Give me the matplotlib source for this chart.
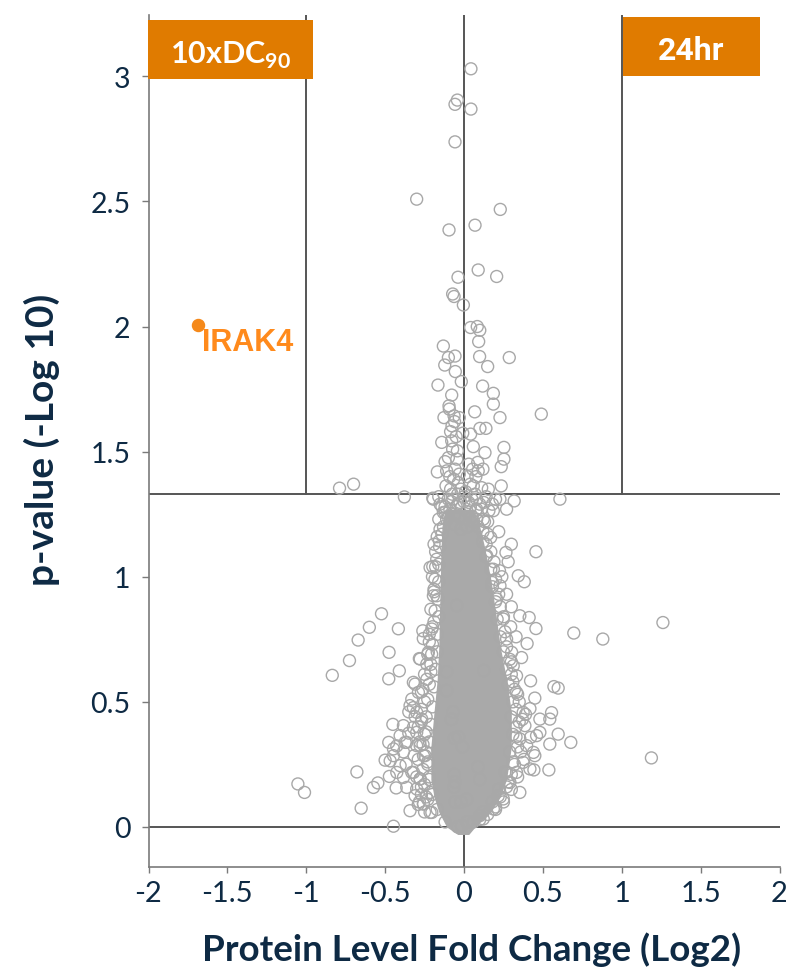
import matplotlib
matplotlib.use("Agg")
import matplotlib.pyplot as plt
from matplotlib.patches import Rectangle

plt.rcParams['font.family'] = ['Lato', 'DejaVu Sans']
plt.rcParams['axes.unicode_minus'] = False
plt.rcParams['mathtext.fontset'] = 'custom'
plt.rcParams['mathtext.rm'] = 'Lato:bold'

navy = '#0e2a44'
orange = '#e07b00'
ring = '#a8a8a8'

# proteins above the p-value cut (log2 fold change, -log10 p)
sig_fc = [0.044, -0.042, -0.057, 0.044, -0.057, -0.30, 0.23, -0.095, 0.07, 0.09,
          0.207, -0.038, -0.072, -0.063, -0.004, 0.042, 0.084, 0.10, 0.093, -0.131,
          -0.099, -0.057, -0.122, 0.099, 0.287, 0.15, -0.055, -0.017, -0.165, 0.118,
          -0.078, 0.186, 0.186, -0.095, -0.093, 0.068, 0.228, 0.49, -0.127, -0.063,
          -0.03, -0.076, 0.101, 0.139, -0.008, 0.042, -0.141, -0.078, 0.059, 0.253,
          -0.072, -0.042, 0.133, 0.253, -0.099, -0.046, 0.087, 0.236, -0.169, -0.11,
          -0.057, 0.09, 0.055, -0.114, -0.036, 0.059, 0.112, 0.154, 0.236, -0.789,
          -0.70, -0.378, -0.198, 0.228, 0.318, 0.608, -0.09, -0.065, -0.03, 0.02,
          0.04, -0.02, -0.085, 0.075, -0.05, -0.085, -0.06, 0.03, -0.12, 0.12,
          -0.075, 0.01]
sig_p = [3.03, 2.905, 2.888, 2.869, 2.738, 2.509, 2.468, 2.386, 2.405, 2.226,
         2.20, 2.197, 2.13, 2.12, 2.086, 1.996, 2.0, 1.985, 1.94, 1.922,
         1.876, 1.882, 1.846, 1.88, 1.876, 1.84, 1.82, 1.78, 1.766, 1.762,
         1.726, 1.733, 1.69, 1.683, 1.67, 1.659, 1.636, 1.65, 1.636, 1.643,
         1.636, 1.603, 1.593, 1.593, 1.574, 1.57, 1.537, 1.543, 1.52, 1.517,
         1.51, 1.503, 1.496, 1.47, 1.476, 1.47, 1.457, 1.44, 1.419, 1.423,
         1.43, 1.423, 1.43, 1.363, 1.376, 1.363, 1.356, 1.35, 1.363, 1.354,
         1.37, 1.319, 1.314, 1.31, 1.303, 1.31, 1.40, 1.39, 1.41, 1.40,
         1.37, 1.35, 1.35, 1.40, 1.56, 1.58, 1.62, 1.45, 1.46, 1.43,
         1.33, 1.34]

# proteins around the dense centre of the cloud
mid_fc = [-0.152, -0.12, -0.025, 0.03, 0.074, 0.125, 0.158, 0.18, 0.27, 0.08,
          -0.07, -0.05, 0.0, 0.05, -0.10, 0.186, -0.13, -0.11, -0.09, -0.14,
          -0.06, -0.03, 0.02, 0.05, 0.09, 0.12, 0.14, 0.11, -0.156, 0.169,
          0.06, 0.12, 0.18, 0.22, 0.26, 0.29, 0.31, 0.30, 0.31, 0.28,
          0.27, 0.25, 0.23, 0.21, 0.20, 0.18, 0.17, 0.14, 0.12,
          -0.12, -0.17, -0.20, -0.22, -0.23, -0.22, -0.21, -0.20, -0.19, -0.18,
          -0.17, -0.17, -0.16, -0.165, -0.16, -0.16, -0.155,
          -0.046, -0.11, 0.125, -0.11, -0.07, -0.08, -0.06, -0.035, -0.01, 0.088,
          -0.063, -0.058, -0.063, 0.10, -0.055, -0.02, -0.04, 0.017, -0.015, 0.02,
          -0.236, -0.226, -0.204, -0.194, -0.184, -0.173, -0.152, -0.131, -0.194,
          -0.215, -0.257, -0.278,
          0.228, 0.207, 0.27, 0.302, 0.312, 0.333, 0.375, 0.386, 0.354, 0.397,
          0.375, 0.333, 0.291, 0.249, 0.186, 0.122, 0.249, 0.186, 0.144, 0.122,
          0.08, -0.08, -0.04, 0.0, 0.04, 0.08, -0.12, 0.15, -0.10, 0.10,
          -0.06, 0.06, -0.02, 0.02,
          -0.14, -0.16, 0.14, 0.20, -0.04, 0.07]
mid_p = [1.29, 1.257, 1.297, 1.297, 1.264, 1.297, 1.264, 1.29, 1.27, 1.23,
         1.31, 1.28, 1.32, 1.31, 1.31, 1.264, 1.20, 1.23, 1.27, 1.17,
         1.25, 1.24, 1.26, 1.24, 1.20, 1.18, 1.13, 1.27, 1.143, 1.157,
         0.02, 0.06, 0.10, 0.15, 0.22, 0.30, 0.37, 0.44, 0.50, 0.57,
         0.63, 0.70, 0.76, 0.83, 0.90, 0.96, 1.03, 1.08, 1.14,
         0.02, 0.07, 0.13, 0.19, 0.26, 0.34, 0.41, 0.48, 0.56, 0.63,
         0.70, 0.77, 0.84, 0.91, 0.98, 1.05, 1.12,
         0.885, 0.62, 0.625, 0.545, 0.46, 0.43, 0.355, 0.36, 0.32, 0.24,
         0.21, 0.18, 0.16, 0.19, 0.10, 0.10, 0.0, 0.11, 0.005, 0.02,
         0.59, 0.698, 0.791, 0.924, 0.99, 1.07, 1.19, 1.257, 1.31,
         0.138, 0.092, 0.192,
         0.964, 0.911, 0.751, 0.698, 0.644, 0.538, 0.458, 0.405, 0.352, 0.325,
         0.258, 0.218, 0.178, 0.112, 0.072, 0.032, 0.831, 1.03, 1.084, 1.23,
         1.27, 1.30, 1.29, 1.30, 1.28, 1.31, 1.28, 1.22, 1.24, 1.29,
         1.21, 1.22, 1.19, 1.20,
         1.28, 1.32, 1.32, 1.31, 1.33, 1.33]

# rings crowding the flanks of the centre
flank_fc = [-0.25, -0.29, -0.23, -0.27, -0.25, -0.30, -0.26, -0.29, -0.24, -0.28,
            -0.25, -0.29, -0.24, -0.27, -0.23, -0.27, -0.22, -0.25, -0.21, -0.23,
            -0.20, -0.22, -0.19, -0.21, -0.19, -0.20, -0.18, -0.19, -0.17, -0.16,
            0.10, 0.15, 0.20, 0.23, 0.27, 0.30, 0.32, 0.34, 0.33, 0.35,
            0.33, 0.34, 0.31, 0.30, 0.29, 0.27, 0.26, 0.25, 0.23, 0.22,
            0.20, 0.19, 0.17, 0.15, 0.13]
flank_p = [0.06, 0.09, 0.11, 0.13, 0.17, 0.20, 0.23, 0.27, 0.30, 0.34,
           0.37, 0.40, 0.44, 0.47, 0.51, 0.54, 0.57, 0.61, 0.65, 0.69,
           0.73, 0.77, 0.82, 0.87, 0.94, 1.00, 1.04, 1.13, 1.16, 1.23,
           0.03, 0.05, 0.08, 0.12, 0.16, 0.21, 0.25, 0.32, 0.36, 0.42,
           0.47, 0.53, 0.58, 0.61, 0.67, 0.72, 0.78, 0.84, 0.88, 0.93,
           0.99, 1.06, 1.10, 1.17, 1.22]

# down-regulated tail below the cut
low_fc = [-0.215, -0.198, -0.523, -0.60, -0.416, -0.671, -0.261, -0.258, -0.475, -0.726,
          -0.41, -0.835, -0.477, -0.283, -0.236, -0.31, -0.331, -0.321, -0.31, -0.451,
          -0.35, -0.30, -0.477, -0.426, -0.384, -0.50, -0.468, -0.367, -0.316, -0.679,
          -0.473, -0.384, -0.546, -0.574, -0.43, -0.30, -1.053, -1.011, -0.283, -0.652,
          -0.342, -0.447, -0.204, -0.173, -0.183, -0.205, -0.278, -0.35, -0.373, -0.278,
          -0.447, -0.426, -0.32, -0.247, -0.215, -0.26, -0.25, -0.27, -0.24, -0.26,
          -0.23, -0.22, -0.27, -0.24, -0.20, -0.19, -0.18, -0.22, -0.21,
          -0.321, -0.289, -0.342, -0.30, -0.384, -0.321, -0.268, -0.363, -0.30, -0.257,
          -0.405, -0.331, -0.278, -0.363, -0.31, -0.257, -0.405, -0.447]
low_p = [1.037, 1.041, 0.852, 0.798, 0.792, 0.747, 0.784, 0.753, 0.698, 0.665,
         0.624, 0.606, 0.592, 0.673, 0.651, 0.571, 0.511, 0.477, 0.441, 0.41,
         0.375, 0.378, 0.338, 0.324, 0.30, 0.267, 0.264, 0.251, 0.285, 0.22,
         0.202, 0.198, 0.176, 0.158, 0.156, 0.152, 0.172, 0.138, 0.10, 0.075,
         0.065, 0.003, 0.058, 0.924, 0.864, 0.691, 0.671, 0.46, 0.338, 0.325,
         0.285, 0.218, 0.218, 0.285, 0.058, 0.55, 0.50, 0.42, 0.38, 0.33,
         0.25, 0.20, 0.16, 0.12, 0.80, 0.95, 1.10, 0.74, 0.62,
         0.578, 0.538, 0.485, 0.458, 0.405, 0.398, 0.431, 0.338, 0.325, 0.285,
         0.245, 0.218, 0.192, 0.158, 0.125, 0.092, 0.365, 0.312]

# up-regulated tail below the cut
up_fc = [0.456, 0.266, 0.28, 0.344, 0.382, 0.225, 0.18, 0.354, 0.413, 0.456,
         0.296, 0.696, 0.88, 1.261, 0.40, 0.365, 0.333, 0.422, 0.57, 0.597,
         0.449, 0.418, 0.555, 0.544, 0.481, 0.597, 0.677, 0.544, 0.422, 0.449,
         0.443, 0.538, 1.188, 0.354, 0.28, 0.217, 0.46, 0.44, 0.418, 0.27,
         0.10, 0.30, 0.32, 0.35, 0.37, 0.33, 0.36, 0.31, 0.34, 0.30,
         0.25, 0.20, 0.38, 0.39, 0.33, 0.30, 0.27, 0.24, 0.30, 0.22, 0.481]
up_p = [1.10, 1.097, 1.06, 1.004, 0.98, 1.024, 0.977, 0.844, 0.837, 0.793,
        0.80, 0.775, 0.751, 0.817, 0.733, 0.677, 0.604, 0.584, 0.561, 0.555,
        0.515, 0.473, 0.457, 0.431, 0.378, 0.371, 0.338, 0.331, 0.358, 0.285,
        0.228, 0.228, 0.276, 0.138, 0.18, 0.124, 0.365, 0.298, 0.232, 0.218,
        0.045, 0.66, 0.55, 0.50, 0.43, 0.40, 0.30, 0.26, 0.20, 0.15,
        0.10, 0.07, 0.27, 0.45, 0.76, 0.88, 0.93, 1.00, 1.13, 1.18, 0.431]

# outline of the saturated centre where thousands of rings overlap
core_p = [-0.03, 0.00, 0.06, 0.12, 0.19, 0.32, 0.46, 0.59, 0.72, 0.86, 0.99, 1.12, 1.20, 1.27]
core_lo = [-0.04, -0.11, -0.16, -0.19, -0.21, -0.21, -0.19, -0.17, -0.16, -0.155, -0.15, -0.145, -0.14, -0.12]
core_hi = [0.03, 0.07, 0.17, 0.23, 0.27, 0.30, 0.30, 0.27, 0.23, 0.20, 0.17, 0.13, 0.10, 0.06]

hit_name = 'IRAK4'
hit_fc = -1.684
hit_p = 2.006

p_cut = 1.33
fc_cut = 1.0
xlo, xhi = -2, 2
ylo, yhi = -0.16, 3.245

W, H = 786, 970
fig = plt.figure(figsize=(W / 100, H / 100), dpi=100)
ax = fig.add_axes([148.5 / W, 1 - 868 / H, 631 / W, 852 / H])
ax.set_xlim(xlo, xhi)
ax.set_ylim(ylo, yhi)

line_kw = dict(color='#555555', lw=1.4, zorder=1)
ax.axhline(0, **line_kw)
ax.axhline(p_cut, **line_kw)
ax.axvline(0, **line_kw)
top_frac = (p_cut - ylo) / (yhi - ylo)
ax.axvline(-fc_cut, ymin=top_frac, ymax=1, **line_kw)
ax.axvline(fc_cut, ymin=top_frac, ymax=1, **line_kw)

ax.fill_betweenx(core_p, core_lo, core_hi, color='#a9a9a9', lw=0, zorder=2)

ring_kw = dict(s=74, facecolors='none', edgecolors=ring, linewidths=1.0, zorder=3)
groups = [(low_fc, low_p), (up_fc, up_p), (flank_fc, flank_p), (mid_fc, mid_p), (sig_fc, sig_p)]
for xs, ys in groups:
    ax.scatter(xs, ys, **ring_kw)

ax.scatter([hit_fc], [hit_p], s=75, color='#f5891a', zorder=4)
ax.text(hit_fc + 0.024, hit_p - 0.068, hit_name, family=['Liberation Sans', 'DejaVu Sans'],
        fontsize=22, fontweight='bold', color='#ff8a1c', va='center', ha='left')

for side in ['top', 'right']:
    ax.spines[side].set_visible(False)
for side in ['left', 'bottom']:
    ax.spines[side].set_color('#7a7a7a')
    ax.spines[side].set_linewidth(1.2)

ax.set_xticks([-2, -1.5, -1, -0.5, 0, 0.5, 1, 1.5, 2])
ax.set_xticklabels(['-2', '-1.5', '-1', '-0.5', '0', '0.5', '1', '1.5', '2'])
ax.set_yticks([0, 0.5, 1, 1.5, 2, 2.5, 3])
ax.set_yticklabels(['0', '0.5', '1', '1.5', '2', '2.5', '3'])
ax.tick_params(axis='x', length=4, width=1, color='#7a7a7a', pad=5,
               labelsize=21, labelcolor=navy)
ax.tick_params(axis='y', length=5, width=1, color='#7a7a7a', pad=8,
               labelsize=20.5, labelcolor=navy)

fig.text(472 / W, 1 - 950 / H, 'Protein Level Fold Change (Log2)', fontsize=26.5,
         fontweight='bold', color=navy, ha='center', va='center')
fig.text(42 / W, 1 - 440 / H, 'p-value (-Log 10)', fontsize=28, fontweight='bold',
         color=navy, ha='center', va='center', rotation=90)

# orange header tags
fig.add_artist(Rectangle((148 / W, 1 - 80 / H), 165 / W, 59 / H, transform=fig.transFigure,
                         color=orange, lw=0))
fig.add_artist(Rectangle((623 / W, 1 - 77 / H), 137 / W, 59 / H, transform=fig.transFigure,
                         color=orange, lw=0))
fig.text(230.5 / W, 1 - 63.5 / H, r'10xDC$_{\mathrm{90}}$', fontsize=22, color='white',
         fontweight='bold', ha='center', va='baseline')
fig.text(691 / W, 1 - 60 / H, '24hr', family=['Roboto', 'DejaVu Sans'], fontsize=23,
         fontweight='bold', color='white', ha='center', va='baseline')

fig.savefig('out.png', dpi=100, facecolor='white')
